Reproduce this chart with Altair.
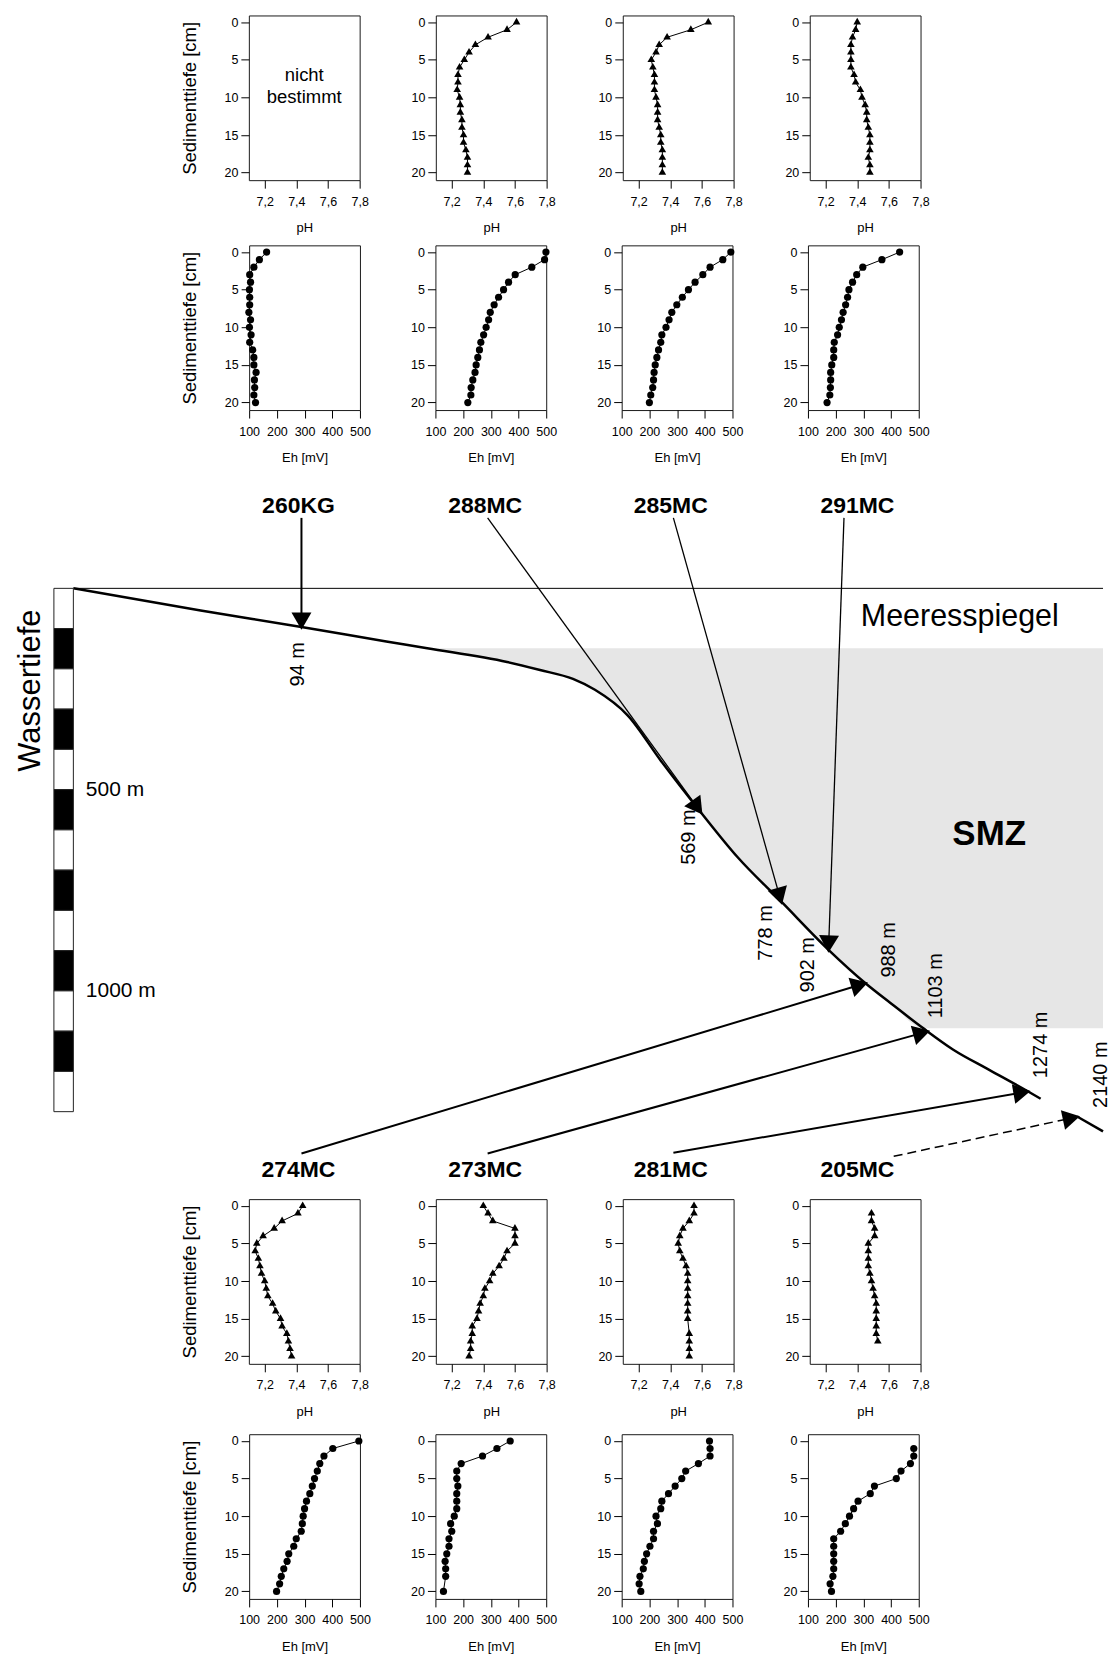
import math
import altair as alt
import pandas as pd

FONT = "Liberation Sans"

# ------------------------------------------------------------------
# Sediment profiles: depth 0..20 cm in 1-cm steps (None = no value)
# ------------------------------------------------------------------
DEPTH_CM = list(range(21))

# upper stations (pH of 260KG not determined)
PH_288MC = [7.61, 7.55, 7.43, 7.35, 7.31, 7.28, 7.25, 7.24, 7.24, 7.235, 7.25, 7.255, 7.255, 7.265, 7.265, 7.275, 7.275, 7.29, 7.30, 7.30, 7.30]
PH_285MC = [7.64, 7.53, 7.38, 7.33, 7.31, 7.28, 7.29, 7.30, 7.30, 7.30, 7.31, 7.32, 7.32, 7.32, 7.33, 7.34, 7.34, 7.35, 7.35, 7.35, 7.35]
PH_291MC = [7.40, 7.39, 7.37, 7.36, 7.36, 7.36, 7.36, 7.38, 7.39, 7.42, 7.43, 7.45, 7.46, 7.46, 7.47, 7.48, 7.48, 7.48, 7.47, 7.48, 7.48]
EH_260KG = [163, 137, 117, 102, 105, 101, 102, 102, 99, 105, 101, 107, 102, 113, 117, 117, 125, 119, 120, 117, 123]
EH_288MC = [499, 494, 448, 388, 364, 346, 328, 312, 298, 292, 283, 274, 264, 259, 253, 247, 243, 235, 229, 228, 217]
EH_285MC = [494, 465, 419, 393, 365, 341, 319, 299, 281, 271, 260, 245, 241, 233, 227, 221, 217, 215, 212, 205, 200]
EH_291MC = [431, 367, 298, 276, 261, 248, 243, 236, 227, 221, 213, 207, 195, 193, 193, 186, 182, 182, 181, 179, 169]

# lower stations
PH_274MC = [7.44, 7.41, 7.31, 7.26, 7.19, 7.15, 7.14, 7.16, 7.17, 7.18, 7.20, 7.21, 7.22, 7.25, 7.27, 7.30, 7.31, 7.34, 7.35, 7.36, 7.37]
PH_273MC = [7.40, 7.43, 7.46, 7.60, 7.60, 7.60, 7.55, 7.53, 7.50, 7.46, 7.44, 7.41, 7.40, 7.38, 7.37, 7.36, 7.33, 7.33, 7.32, 7.32, 7.31]
PH_281MC = [7.55, 7.55, 7.52, 7.48, 7.46, 7.45, 7.46, 7.48, 7.50, 7.51, 7.51, 7.51, 7.51, 7.51, 7.51, 7.51, None, 7.52, 7.52, 7.52, 7.52]
PH_205MC = [None, 7.49, 7.49, 7.51, 7.51, 7.47, 7.47, 7.47, 7.47, 7.48, 7.49, 7.50, 7.51, 7.52, 7.52, 7.52, 7.52, 7.52, 7.53, None, None]
EH_274MC = [496, 402, 370, 355, 346, 336, 328, 319, 307, 300, 295, 292, 288, 270, 261, 243, 237, 225, 216, 210, 199]
EH_273MC = [370, 322, 270, 193, 177, 177, 181, 177, 177, 177, 168, 155, 159, 149, 149, 141, 135, 137, 137, None, 129]
EH_281MC = [417, 419, 419, 377, 331, 317, 293, 269, 245, 241, 224, 229, 215, 215, 202, 190, 182, 178, 166, 163, 169]
EH_205MC = [None, 482, 482, 470, 436, 419, 340, 325, 281, 265, 250, 235, 218, 193, 193, 193, 193, 193, 190, 180, 185]

PH_DOMAIN = [7.1, 7.8]
PH_TICKS = [7.2, 7.4, 7.6, 7.8]
EH_DOMAIN = [100, 500]
EH_TICKS = [100, 200, 300, 400, 500]
DEPTH_DOMAIN = [-0.9, 21]
DEPTH_TICKS = [0, 5, 10, 15, 20]
NOT_DETERMINED = ["nicht", "bestimmt"]

# ------------------------------------------------------------------
# Schematic bathymetric section (x: schematic distance units, d: water depth in m)
# ------------------------------------------------------------------
PROFILE_X = [72.5, 200, 301, 386, 427, 507, 540, 573, 595, 628, 661, 701, 738, 782, 829, 866, 891, 924, 954, 990, 1029, 1041.5]
PROFILE_DEPTH = [0, 55, 96, 132, 149, 183, 203, 225, 252, 316, 428, 556, 668, 779, 898, 981, 1030, 1093, 1146, 1196, 1250, 1268]
PROFILE2_X = [1078, 1104]
PROFILE2_DEPTH = [1312, 1349]

SEA_LEVEL_X = [72.5, 1104]
SMZ_RIGHT_X = 1104
SMZ_DEPTH = [149, 1093]
SCALE_BAR_TOPS = list(range(0, 1300, 100))
SCALE_BAR_X = [53, 72.5]
SCALE_LABELS = ["500 m", "1000 m"]
SCALE_LABEL_DEPTH = [500, 1000]

STATIONS = ["260KG", "288MC", "285MC", "291MC", "274MC", "273MC", "281MC", "205MC"]
WATER_DEPTH = ["94 m", "569 m", "778 m", "902 m", "988 m", "1103 m", "1274 m", "2140 m"]
LABEL_X = [298, 485, 671, 858, 298, 485, 671, 858]
LABEL_D = [-203.5, -203.5, -203.5, -203.5, 1445, 1445, 1445, 1445]
ARROW_START_X = [301, 487.5, 673.6, 844.5, 301, 487.5, 673.6, 894.3]
ARROW_START_D = [-175, -175, -175, -175, 1404, 1404, 1402, 1411]
ARROW_TIP_X = [301, 701, 781.6, 829, 865.8, 928, 1028.6, 1078]
ARROW_TIP_D = [96, 556, 779, 898, 981, 1101, 1250, 1313]
DEPTH_LABEL_X = [297.5, 689, 766, 808, 889.7, 937, 1041.4, 1101.9]
DEPTH_LABEL_D = [189, 618, 856, 935, 898, 987, 1134, 1208]

ARROW_STYLE = {"260KG": "thick", "288MC": "thin", "285MC": "thin", "291MC": "thin",
               "274MC": "thick", "273MC": "thick", "281MC": "thick", "205MC": "dashed"}

# ------------------------------------------------------------------
# Layout
# ------------------------------------------------------------------
PANEL_W, PANEL_H = 111, 165
S_H_PH, S_H_EH = 40.3, 38.6
SPACER_PH, SPACER_EH = 177.7 - S_H_PH, 177.7 - S_H_EH
S_TOP, S_BOT, S_OUT = 9.3, 14.5, 9.4
DIAG_W, DIAG_H = 1114, 713
X_DOM = [0, 1114]
D_TOP, D_BOT = -279, 1489


def spacer(w):
    return alt.Chart(pd.DataFrame({"v": [0]})).mark_point(opacity=0).encode(
        x=alt.X("v:Q", axis=None, scale=alt.Scale(domain=[-1, 1])),
        y=alt.Y("v:Q", axis=None, scale=alt.Scale(domain=[-1, 1])),
    ).properties(width=w, height=10, view=alt.ViewBackground(stroke="transparent"))


def panel(values, kind, marker, with_title, note=False):
    if kind == "pH":
        dom, ticks, xt = PH_DOMAIN, PH_TICKS, "pH"
        lexpr = "replace(format(datum.value, '.1f'), '.', ',')"
    else:
        dom, ticks, xt = EH_DOMAIN, EH_TICKS, "Eh [mV]"
        lexpr = "format(datum.value, 'd')"
    xaxis = alt.Axis(values=ticks, title=xt, labelExpr=lexpr, labelPadding=7, titlePadding=14,
                     labelFlush=False, labelOverlap=False, titleFontSize=13)
    ykw = dict(values=DEPTH_TICKS, labelPadding=3, labelFlush=False, labelOverlap=False)
    if with_title:
        yaxis = alt.Axis(title="Sedimenttiefe [cm]", titleFontSize=18.5, titlePadding=24.8, **ykw)
    else:
        yaxis = alt.Axis(title=None, **ykw)
    X = alt.X("Wert:Q", scale=alt.Scale(domain=dom, nice=False, zero=False), axis=xaxis)
    Y = alt.Y("Tiefe:Q", scale=alt.Scale(domain=DEPTH_DOMAIN, reverse=True, nice=False, zero=False), axis=yaxis)
    if note:
        mid = (dom[0] + dom[1]) / 2
        df = pd.DataFrame({"Wert": [mid, mid], "Tiefe": [7.0, 9.9], "txt": NOT_DETERMINED})
        ch = alt.Chart(df).mark_text(fontSize=18.5, align="center", baseline="middle", color="black",
                                     font=FONT).encode(x=X, y=Y, text="txt:N")
    else:
        df = pd.DataFrame([{"Tiefe": d, "Wert": v} for d, v in zip(DEPTH_CM, values) if v is not None])
        base = alt.Chart(df).encode(x=X, y=Y)
        line = base.mark_line(color="black", strokeWidth=1).encode(order=alt.Order("Tiefe:Q"))
        if marker == "triangle":
            pts = base.mark_point(shape="triangle", filled=True, color="black", size=58, opacity=1)
        else:
            pts = base.mark_point(shape="circle", filled=True, color="black", size=52, opacity=1)
        ch = alt.layer(line, pts)
    return ch.properties(width=PANEL_W, height=PANEL_H)


def row(specs, kind, marker):
    sp = SPACER_PH if kind == "pH" else SPACER_EH
    s = S_H_PH if kind == "pH" else S_H_EH
    charts = [spacer(sp)]
    for i, (vals, note) in enumerate(specs):
        charts.append(panel(vals, kind, marker, with_title=(i == 0), note=note))
    return alt.hconcat(*charts, spacing=s)


row_ph_top = row([(None, True), (PH_288MC, False), (PH_285MC, False), (PH_291MC, False)], "pH", "triangle")
row_eh_top = row([(EH_260KG, False), (EH_288MC, False), (EH_285MC, False), (EH_291MC, False)], "Eh", "circle")
row_ph_bot = row([(PH_274MC, False), (PH_273MC, False), (PH_281MC, False), (PH_205MC, False)], "pH", "triangle")
row_eh_bot = row([(EH_274MC, False), (EH_273MC, False), (EH_281MC, False), (EH_205MC, False)], "Eh", "circle")

# ------------------------------------------------------------------
# Section diagram
# ------------------------------------------------------------------
DX = alt.X("x:Q", scale=alt.Scale(domain=X_DOM, nice=False, zero=False), axis=None)
DY = alt.Y("d:Q", scale=alt.Scale(domain=[D_TOP, D_BOT], reverse=True, nice=False, zero=False), axis=None)

SX = DIAG_W / (X_DOM[1] - X_DOM[0])
SY = DIAG_H / (D_BOT - D_TOP)
HEAD_SIZE = 400
HEAD_H = math.sqrt(HEAD_SIZE) * math.sqrt(3) / 4

arrows = []
for i, st in enumerate(STATIONS):
    sx, sd, tx, td = ARROW_START_X[i], ARROW_START_D[i], ARROW_TIP_X[i], ARROW_TIP_D[i]
    dxp, dyp = (tx - sx) * SX, (td - sd) * SY
    L = math.hypot(dxp, dyp)
    ux, uy = dxp / L, dyp / L
    ang = math.degrees(math.atan2(ux, -uy)) % 360
    cx, cd = tx - HEAD_H * ux / SX, td - HEAD_H * uy / SY
    arrows.append(dict(station=st, x=sx, d=sd, x2=cx, d2=cd, ang=ang, style=ARROW_STYLE[st]))
arrow_df = pd.DataFrame(arrows)

# SMZ band: from its upper limit down to the seafloor (water side only), capped at its lower limit
smz_rows = [dict(x=x, d=SMZ_DEPTH[0], d2=min(max(dep, SMZ_DEPTH[0]), SMZ_DEPTH[1]))
            for x, dep in zip(PROFILE_X, PROFILE_DEPTH) if dep >= SMZ_DEPTH[0]]
smz_rows.append(dict(x=SMZ_RIGHT_X, d=SMZ_DEPTH[0], d2=SMZ_DEPTH[1]))
smz = alt.Chart(pd.DataFrame(smz_rows)).mark_area(
    color="#e6e6e6", orient="vertical", interpolate="monotone", opacity=1).encode(
    x=DX, y=DY, y2="d2:Q")

prof1 = pd.DataFrame({"x": PROFILE_X, "d": PROFILE_DEPTH, "i": range(len(PROFILE_X)), "seg": "a"})
prof2 = pd.DataFrame({"x": PROFILE2_X, "d": PROFILE2_DEPTH, "i": range(len(PROFILE2_X)), "seg": "b"})

sea = alt.Chart(pd.DataFrame({"x": [SEA_LEVEL_X[0]], "x2": [SEA_LEVEL_X[1]], "d": [0]})).mark_rule(
    color="black", strokeWidth=1).encode(x=DX, x2="x2:Q", y=DY)

seafloor = alt.Chart(pd.concat([prof1, prof2])).mark_line(
    color="black", strokeWidth=2.5, interpolate="monotone").encode(
    x=DX, y=DY, detail="seg:N", order=alt.Order("i:Q"))

bar_df = pd.DataFrame({"x": SCALE_BAR_X[0], "x2": SCALE_BAR_X[1], "d": SCALE_BAR_TOPS,
                       "d2": [t + 100 for t in SCALE_BAR_TOPS],
                       "fill": ["white" if k % 2 == 0 else "black" for k in range(len(SCALE_BAR_TOPS))]})
scalebar = alt.Chart(bar_df).mark_rect(stroke="#222222", strokeWidth=1).encode(
    x=DX, x2="x2:Q", y=DY, y2="d2:Q", fill=alt.Fill("fill:N", scale=None))

thin = alt.Chart(arrow_df[arrow_df["style"] == "thin"]).mark_rule(color="black", strokeWidth=1.3).encode(
    x=DX, y=DY, x2="x2:Q", y2="d2:Q")
thick = alt.Chart(arrow_df[arrow_df["style"] == "thick"]).mark_rule(color="black", strokeWidth=2).encode(
    x=DX, y=DY, x2="x2:Q", y2="d2:Q")
dashed = alt.Chart(arrow_df[arrow_df["style"] == "dashed"]).mark_rule(
    color="black", strokeWidth=1.5, strokeDash=[9, 5]).encode(x=DX, y=DY, x2="x2:Q", y2="d2:Q")

heads = alt.Chart(arrow_df.assign(x=arrow_df["x2"], d=arrow_df["d2"])).mark_point(
    shape="triangle", filled=True, color="black", size=HEAD_SIZE, opacity=1).encode(
    x=DX, y=DY, angle=alt.Angle("ang:Q", scale=None))

st_df = pd.DataFrame({"x": LABEL_X, "d": LABEL_D, "t": STATIONS})
st_text = alt.Chart(st_df).mark_text(font=FONT, fontSize=23, fontWeight="bold", align="center",
                                     baseline="middle", color="black").encode(x=DX, y=DY, text="t:N")

dl_df = pd.DataFrame({"x": DEPTH_LABEL_X, "d": DEPTH_LABEL_D, "t": WATER_DEPTH})
dl_text = alt.Chart(dl_df).mark_text(font=FONT, fontSize=20, angle=270, align="center",
                                     baseline="middle", color="black").encode(x=DX, y=DY, text="t:N")

sl_text = alt.Chart(pd.DataFrame({"x": [960.5], "d": [93], "t": ["Meeresspiegel"]})).mark_text(
    font=FONT, fontSize=30.5, align="center", baseline="alphabetic", color="black").encode(x=DX, y=DY, text="t:N")
smz_text = alt.Chart(pd.DataFrame({"x": [990], "d": [638.5], "t": ["SMZ"]})).mark_text(
    font=FONT, fontSize=35, fontWeight="bold", align="center", baseline="alphabetic", color="black").encode(
    x=DX, y=DY, text="t:N")
wt_text = alt.Chart(pd.DataFrame({"x": [39.5], "d": [254], "t": ["Wassertiefe"]})).mark_text(
    font=FONT, fontSize=31, angle=270, align="center", baseline="alphabetic", color="black").encode(
    x=DX, y=DY, text="t:N")
sc_text = alt.Chart(pd.DataFrame({"x": [85, 85], "d": SCALE_LABEL_DEPTH, "t": SCALE_LABELS})).mark_text(
    font=FONT, fontSize=21, align="left", baseline="middle", color="black").encode(x=DX, y=DY, text="t:N")

diagram = alt.layer(smz, sea, seafloor, scalebar, thin, thick, dashed, heads,
                    st_text, dl_text, sl_text, smz_text, wt_text, sc_text).properties(
    width=DIAG_W, height=DIAG_H, view=alt.ViewBackground(stroke="transparent"))

top_block = alt.vconcat(row_ph_top, row_eh_top, spacing=S_TOP)
bottom_block = alt.vconcat(row_ph_bot, row_eh_bot, spacing=S_BOT)

chart = alt.vconcat(top_block, diagram, bottom_block, spacing=S_OUT).properties(
    padding={"left": 0, "top": 13, "right": 0, "bottom": 0}, background="white"
).configure(font=FONT).configure_axis(
    domain=False, grid=False, ticks=True, tickSize=8, tickColor="black", tickWidth=1,
    labelFontSize=12.5, labelColor="black", labelFont=FONT, titleFont=FONT,
    titleFontWeight="normal", titleColor="black"
).configure_view(stroke="#1a1a1a", strokeWidth=1)

chart.save("out.html", embed_options={"renderer": "svg", "actions": False})
